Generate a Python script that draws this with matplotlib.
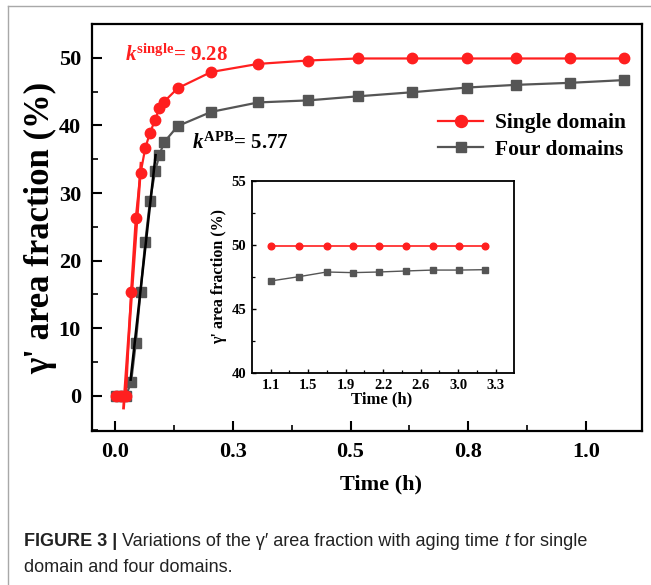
import matplotlib
matplotlib.use("Agg")
import matplotlib.pyplot as plt
import numpy as np
from matplotlib.ticker import FixedLocator, MultipleLocator
from matplotlib.lines import Line2D

# ---------------- data ----------------
time_main = [0.003, 0.013, 0.023, 0.034, 0.044, 0.054, 0.064, 0.074, 0.085, 0.094,
             0.104, 0.133, 0.204, 0.304, 0.41, 0.515, 0.63, 0.747, 0.852, 0.967, 1.08]
single_domain = [0, 0, 0, 15.4, 26.3, 32.9, 36.6, 38.9, 40.8, 42.6,
                 43.5, 45.5, 47.9, 49.1, 49.6, 49.9, 49.9, 49.9, 49.9, 49.9, 49.9]
four_domains = [0, 0, 0, 2.0, 7.8, 15.4, 22.7, 28.8, 33.2, 35.6,
                37.5, 39.9, 42.0, 43.4, 43.7, 44.3, 44.9, 45.6, 46.0, 46.3, 46.7]

fit_single_t = [0.018, 0.055]
fit_single_y = [-1.8, 34.4]
fit_four_t = [0.033, 0.086]
fit_four_y = [2.4, 35.6]

main_xticks = [0.0, 0.25, 0.5, 0.75, 1.0]
main_xticklabels = ["0.0", "0.3", "0.5", "0.8", "1.0"]
main_yticks = [0, 10, 20, 30, 40, 50]

inset_time = [1.1, 1.38, 1.648, 1.901, 2.159, 2.423, 2.684, 2.945, 3.196]
inset_single = [49.9, 49.9, 49.9, 49.9, 49.9, 49.9, 49.9, 49.9, 49.9]
inset_four = [47.19, 47.53, 47.89, 47.84, 47.89, 47.97, 48.04, 48.04, 48.07]
inset_xticklabels = ["1.1", "1.5", "1.9", "2.2", "2.6", "3.0", "3.3"]
inset_yticks = [40, 45, 50, 55]

k_single_text = r"$\mathit{k}^{\mathrm{single}}$= 9.28"
k_apb_text = r"$\mathit{k}^{\mathrm{APB}}$= 5.77"

# ---------------- style ----------------
SERIF = ["Liberation Serif", "DejaVu Serif"]
plt.rcParams["font.family"] = SERIF
plt.rcParams["font.weight"] = "bold"
plt.rcParams["mathtext.fontset"] = "custom"
plt.rcParams["mathtext.it"] = "Liberation Serif:italic:bold"
plt.rcParams["mathtext.rm"] = "Liberation Serif:bold"
plt.rcParams["mathtext.bf"] = "Liberation Serif:bold"

RED = "#ff1f1f"
GRAY = "#555555"

fig = plt.figure(figsize=(6.51, 5.85), dpi=100)

# outer light frame
fig.add_artist(Line2D([8 / 651, 8 / 651], [0, 1 - 6 / 585], transform=fig.transFigure,
                      color="#a8a8a8", lw=1.0))
fig.add_artist(Line2D([8 / 651, 1], [1 - 6 / 585, 1 - 6 / 585], transform=fig.transFigure,
                      color="#a8a8a8", lw=1.0))

# ---------------- main axes ----------------
ax = fig.add_axes([92 / 651, 1 - 431 / 585, 550 / 651, 407 / 585])
l4, = ax.plot(time_main, four_domains, color=GRAY, lw=1.6, marker="s", ms=6.5,
              mfc=GRAY, mec=GRAY, zorder=3, label="Four domains")
l1, = ax.plot(time_main, single_domain, color=RED, lw=1.6, marker="o", ms=7.5,
              mfc=RED, mec=RED, zorder=4, label="Single domain")
ax.plot(fit_single_t, fit_single_y, color=RED, lw=2.0, zorder=5)
ax.plot(fit_four_t, fit_four_y, color="black", lw=1.8, zorder=5)

ax.set_xlim(-0.049, 1.119)
ax.set_ylim(-5.2, 55)
ax.xaxis.set_major_locator(FixedLocator(main_xticks))
ax.set_xticklabels(main_xticklabels)
ax.xaxis.set_minor_locator(MultipleLocator(0.125))
ax.yaxis.set_major_locator(FixedLocator(main_yticks))
ax.yaxis.set_minor_locator(MultipleLocator(5))
ax.tick_params(which="major", direction="in", length=7, width=1.5, labelsize=16, pad=8)
ax.tick_params(which="minor", direction="in", length=4, width=1.2)
for lab in ax.get_xticklabels() + ax.get_yticklabels():
    lab.set_fontweight("bold")
for s in ax.spines.values():
    s.set_linewidth(1.6)

ax.set_xlabel("Time (h)", fontsize=16, fontweight="bold")
ax.xaxis.set_label_coords(0.525, -0.106)
ax.set_ylabel("γ' area fraction (%)", fontsize=25, fontweight="bold")
ax.yaxis.set_label_coords(-0.064, 0.5)

ax.text(0.021, 49.5, k_single_text, color=RED, fontsize=15, fontweight="bold",
        va="baseline", ha="left", zorder=6)
ax.text(0.163, 36.6, k_apb_text, color="black", fontsize=15, fontweight="bold",
        va="baseline", ha="left", zorder=6)

ax.legend(handles=[l1, l4], loc="center left",
          bbox_to_anchor=(438 / 651, 1 - 136.5 / 585), bbox_transform=fig.transFigure,
          frameon=False, handlelength=2.1, handletextpad=0.55,
          labelspacing=0.3, borderpad=0, borderaxespad=0, markerscale=1.15,
          prop={"family": SERIF, "weight": "bold", "size": 15.5})

# ---------------- inset ----------------
axin = fig.add_axes([251.7 / 651, 1 - 373.3 / 585, 262.6 / 651, 192.6 / 585])
axin.plot(inset_time, inset_four, color=GRAY, lw=1.0, marker="s", ms=3.8,
          mfc=GRAY, mec=GRAY, zorder=3)
axin.plot(inset_time, inset_single, color=RED, lw=1.2, marker="o", ms=4.8,
          mfc=RED, mec=RED, zorder=4)
axin.set_xlim(0.914, 3.483)
axin.set_ylim(40, 55)
xt = np.linspace(1.1, 3.3, len(inset_xticklabels))
axin.xaxis.set_major_locator(FixedLocator(xt))
axin.set_xticklabels(inset_xticklabels)
axin.xaxis.set_minor_locator(FixedLocator((xt[:-1] + xt[1:]) / 2))
axin.yaxis.set_major_locator(FixedLocator(inset_yticks))
axin.yaxis.set_minor_locator(MultipleLocator(2.5))
axin.tick_params(which="major", direction="in", length=3, width=1.0, labelsize=10.5, pad=4)
axin.tick_params(which="minor", direction="in", length=2, width=0.9)
for lab in axin.get_xticklabels() + axin.get_yticklabels():
    lab.set_fontweight("bold")
for s in axin.spines.values():
    s.set_linewidth(1.3)
axin.set_xlabel("Time (h)", fontsize=12, fontweight="bold")
axin.xaxis.set_label_coords(0.495, -0.095)
axin.set_ylabel("γ' area fraction (%)", fontsize=11.5, fontweight="bold")
axin.yaxis.set_label_coords(-0.094, 0.5)

# ---------------- caption ----------------
CAP = ["Liberation Sans", "DejaVu Sans"]
renderer = fig.canvas.get_renderer()
cap_y1 = 1 - 542 / 585
cap_y2 = 1 - 568 / 585
x0 = 24 / 651
target_w = 561.0
pieces = [("FIGURE 3 | ", "bold", "normal"),
          ("Variations of the γ′ area fraction with aging time ", "normal", "normal"),
          ("t", "normal", "italic"),
          (" for single", "normal", "normal")]


def draw_line(size):
    arts = []
    x = x0
    for txt, w, st in pieces:
        t = fig.text(x, cap_y1, txt, family=CAP, fontsize=size, fontweight=w,
                     fontstyle=st, color="#222222", va="center", ha="left")
        bb = t.get_window_extent(renderer=renderer)
        x += bb.width / fig.bbox.width
        arts.append(t)
    return arts, (x - x0) * fig.bbox.width


arts, w = draw_line(11.0)
cap_size = 11.0 * target_w / w
for a in arts:
    a.remove()
draw_line(cap_size)
fig.text(x0, cap_y2, "domain and four domains.", family=CAP, fontsize=cap_size,
         fontweight="normal", color="#222222", va="center", ha="left")

fig.savefig("out.png", dpi=100)
